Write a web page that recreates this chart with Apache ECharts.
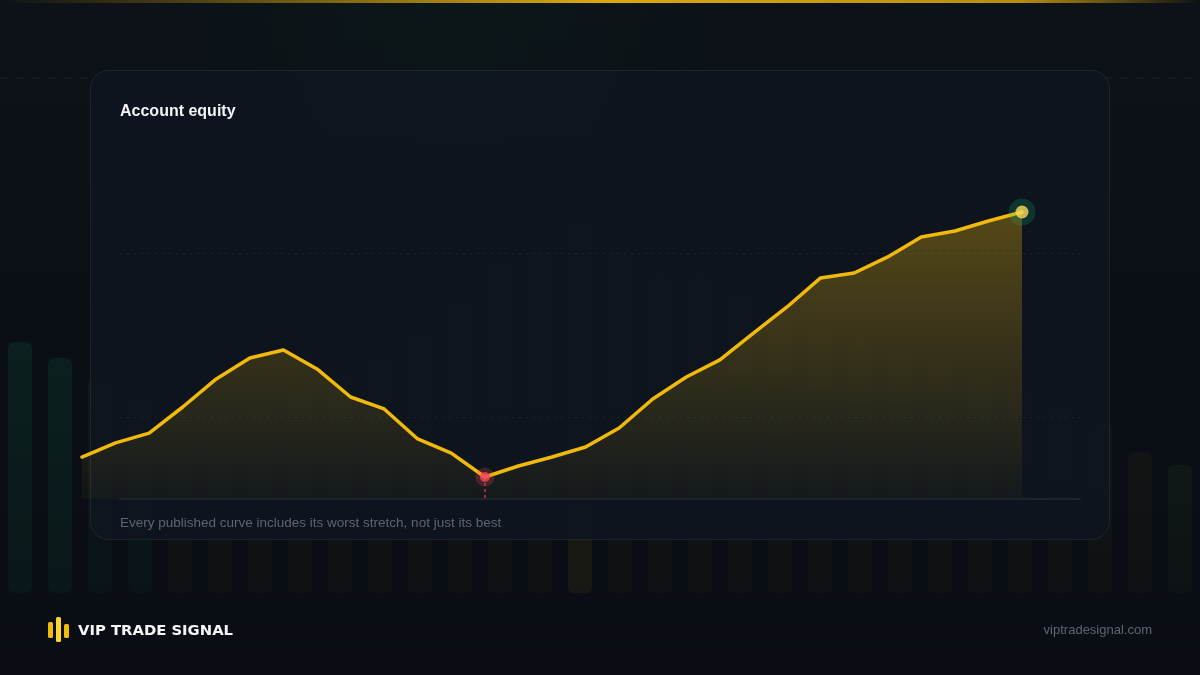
<!DOCTYPE html>
<html>
<head>
<meta charset="utf-8">
<title>Account equity</title>
<script src="https://cdn.jsdelivr.net/npm/echarts@6/dist/echarts.min.js"></script>
<style>
  html, body { margin: 0; padding: 0; background: #0b1016; }
  #chart { width: 1200px; height: 675px; }
</style>
</head>
<body>
<div id="chart"></div>
<script>
// equity curve, one value per session
const days = [];
for (let d = 1; d <= 29; d++) days.push('D' + d);
const equity = [
  107560, 108420, 109020, 110610, 112320, 113600, 114090, 112930, 111220, 110490,
  108660, 107800, 106340, 107010, 107560, 108170, 109330, 111100, 112440, 113480,
  115120, 116710, 118480, 118780, 119760, 120980, 121340, 121950, 122500
];
const yMin = 105000;
const yMax = 125000;
const yStep = 5000;

// decorative backdrop bars (relative level 0-100)
const backdrop = [
  50.2, 47, 43, 40, 37, 35, 38, 41, 44, 48,
  52, 58.6, 66.6, 68.6, 74.2, 68.6, 64.6, 64.6, 60, 56,
  53, 50, 48, 46, 44, 42, 38, 34, 28.2, 25.6
];
const backdropCats = backdrop.map((v, i) => 'b' + i);

const title = 'Account equity';
const caption = 'Every published curve includes its worst stretch, not just its best';
const brand = 'VIP TRADE SIGNAL';
const site = 'viptradesignal.com';

const GOLD = '#f0b90b';
const RED = '#f6465d';
const FONT = '"Liberation Sans", Arial, sans-serif';

let minIdx = 0;
equity.forEach((v, i) => { if (v < equity[minIdx]) minIdx = i; });
const lastIdx = equity.length - 1;

function barColor(i) {
  let c = 'rgba(240,185,11,';
  let a = 0.035;
  if (i < 2) { c = 'rgba(14,203,129,'; a = 0.085; }
  else if (i < 4) { c = 'rgba(14,203,129,'; a = 0.06; }
  if (i === 14) a = 0.11;
  if (i === 29) { c = 'rgba(120,190,60,'; a = 0.05; }
  return new echarts.graphic.LinearGradient(0, 0, 0, 1, [
    { offset: 0, color: c + a + ')' },
    { offset: 1, color: c + (a * 0.55) + ')' }
  ]);
}

const chart = echarts.init(document.getElementById('chart'), null, { renderer: 'canvas' });

const option = {
  backgroundColor: new echarts.graphic.LinearGradient(0, 0, 0, 1, [
    { offset: 0, color: '#0c1217' },
    { offset: 1, color: '#0a0d14' }
  ]),
  animation: false,
  grid: [
    { left: 82, right: 178, top: 171, bottom: 176 },
    { left: 120, right: 120, top: 171, bottom: 176 },
    { left: 0, right: 0, top: 93, bottom: 82 }
  ],
  xAxis: [
    { gridIndex: 0, type: 'category', data: days, boundaryGap: false, show: false },
    {
      gridIndex: 1, type: 'value', min: 0, max: 1, z: 10,
      axisLine: { show: true, lineStyle: { color: '#1d242e', width: 2 } },
      axisTick: { show: false }, axisLabel: { show: false }, splitLine: { show: false }
    },
    { gridIndex: 2, type: 'category', data: backdropCats, show: false }
  ],
  yAxis: [
    { gridIndex: 0, type: 'value', min: yMin, max: yMax, show: false },
    {
      gridIndex: 1, type: 'value', min: yMin, max: yMax, interval: yStep, z: 10,
      axisLine: { show: false }, axisTick: { show: false }, axisLabel: { show: false },
      splitLine: {
        show: true,
        lineStyle: { color: ['rgba(0,0,0,0)', 'rgba(255,255,255,0.07)'], type: [2, 5], width: 1 }
      }
    },
    { gridIndex: 2, type: 'value', min: 0, max: 100, show: false }
  ],
  graphic: [
    {
      type: 'rect', z: 0, silent: true,
      shape: { x: 0, y: 0, width: 1200, height: 675 },
      style: {
        fill: new echarts.graphic.RadialGradient(0.38, 0.05, 0.4, [
          { offset: 0, color: 'rgba(14,203,129,0.028)' },
          { offset: 1, color: 'rgba(14,203,129,0)' }
        ])
      }
    },
    {
      type: 'rect', z: 0, silent: true,
      shape: { x: 0, y: 0, width: 1200, height: 3 },
      style: {
        fill: new echarts.graphic.LinearGradient(0, 0, 1, 0, [
          { offset: 0, color: 'rgba(240,185,11,0)' },
          { offset: 0.5, color: 'rgba(240,185,11,0.9)' },
          { offset: 0.85, color: 'rgba(240,185,11,0.75)' },
          { offset: 1, color: 'rgba(240,185,11,0)' }
        ])
      }
    },
    {
      type: 'line', z: 0, silent: true,
      shape: { x1: 0, y1: 78, x2: 1200, y2: 78 },
      style: { stroke: 'rgba(255,255,255,0.07)', lineWidth: 1, lineDash: [8, 8] }
    },
    {
      type: 'rect', z: 3, silent: true,
      shape: { x: 90.5, y: 70.5, width: 1019, height: 469, r: 18 },
      style: { fill: 'rgba(15,21,30,0.95)', stroke: 'rgba(255,255,255,0.075)', lineWidth: 1 }
    },
    {
      type: 'text', z: 10, left: 120, top: 104,
      style: { text: title, fill: '#f2f4f7', font: 'bold 16px ' + FONT }
    },
    {
      type: 'text', z: 10, left: 120, top: 516,
      style: { text: caption, fill: '#5d6572', font: '13.5px ' + FONT }
    },
    {
      type: 'rect', z: 10, shape: { x: 48, y: 622, width: 5, height: 16, r: 1.5 },
      style: { fill: GOLD }
    },
    {
      type: 'rect', z: 10, shape: { x: 56, y: 617, width: 5, height: 25, r: 1.5 },
      style: { fill: '#fcd535' }
    },
    {
      type: 'rect', z: 10, shape: { x: 64, y: 624, width: 5, height: 14, r: 1.5 },
      style: { fill: GOLD }
    },
    {
      type: 'text', z: 10, left: 78, top: 624,
      style: { text: brand, fill: '#f5f6f8', font: 'bold 14.8px "DejaVu Sans", sans-serif' }
    },
    {
      type: 'text', z: 10, right: 48, top: 624,
      style: { text: site, fill: '#5d6572', font: '13px ' + FONT, textAlign: 'right' }
    }
  ],
  series: [
    {
      type: 'bar', xAxisIndex: 2, yAxisIndex: 2, z: 1, silent: true,
      barWidth: 24,
      data: backdrop.map((v, i) => ({
        value: v,
        itemStyle: { color: barColor(i), borderRadius: 6 }
      }))
    },
    {
      type: 'line', xAxisIndex: 0, yAxisIndex: 0, z: 5, silent: true,
      data: equity,
      showSymbol: false,
      lineStyle: { color: GOLD, width: 3.5, join: 'round', cap: 'round' },
      areaStyle: {
        origin: 'start',
        color: new echarts.graphic.LinearGradient(0, 0, 0, 1, [
          { offset: 0, color: 'rgba(240,185,11,0.45)' },
          { offset: 1, color: 'rgba(240,185,11,0.04)' }
        ])
      },
      markLine: {
        silent: true, symbol: 'none', label: { show: false },
        lineStyle: { color: 'rgba(246,70,93,0.7)', type: [3, 3], width: 1.5 },
        data: [[
          { coord: [days[minIdx], equity[minIdx]] },
          { coord: [days[minIdx], yMin] }
        ]]
      }
    },
    {
      type: 'scatter', xAxisIndex: 0, yAxisIndex: 0, z: 6, silent: true,
      data: [
        { value: [days[minIdx], equity[minIdx]], symbolSize: 19, itemStyle: { color: 'rgba(246,70,93,0.28)' } },
        { value: [days[lastIdx], equity[lastIdx]], symbolSize: 27, itemStyle: { color: 'rgba(14,203,129,0.22)' } }
      ]
    },
    {
      type: 'scatter', xAxisIndex: 0, yAxisIndex: 0, z: 7, silent: true,
      data: [
        { value: [days[minIdx], equity[minIdx]], symbolSize: 10, itemStyle: { color: RED } },
        { value: [days[lastIdx], equity[lastIdx]], symbolSize: 13, itemStyle: { color: '#fdd85d' } }
      ]
    }
  ]
};

chart.setOption(option);
</script>
</body>
</html>
